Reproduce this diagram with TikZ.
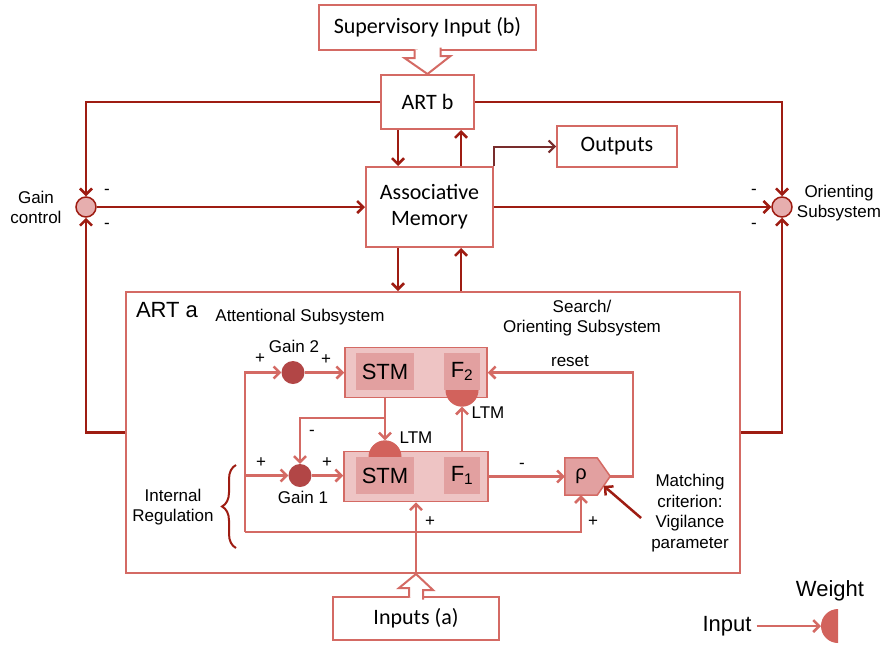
\documentclass[tikz,border=0pt]{standalone}
\usepackage{fontspec}
\setmainfont{Liberation Sans}
\newfontfamily\calib{Carlito}
\usetikzlibrary{arrows.meta,decorations.pathreplacing,calc}
\definecolor{artdark}{RGB}{158,28,18}
\definecolor{artline}{RGB}{212,106,100}
\definecolor{artfill}{RGB}{238,196,196}
\definecolor{artcell}{RGB}{226,160,160}
\definecolor{artgain}{RGB}{178,70,70}
\definecolor{artltm}{RGB}{210,98,92}
\definecolor{artout}{RGB}{120,45,45}
\begin{document}
\begin{tikzpicture}[x=1pt,y=-1pt,>={Straight Barb[length=6pt,width=12pt]},
    outerline/.style={draw=artdark,line width=2.5pt},
    innerline/.style={draw=artline,line width=2.5pt},
    block/.style={draw=artline,line width=2pt,fill=white,inner sep=0pt,align=center,font=\calib\fontsize{22}{26}\selectfont},
    field/.style={draw=artline,line width=1.5pt,fill=artfill,inner sep=0pt,minimum height=50pt},
    cell/.style={fill=artcell,inner sep=0pt,minimum height=37pt,font=\fontsize{22}{26}\selectfont},
    gain/.style={circle,fill=artgain,inner sep=0pt,minimum size=23pt},
    sumnode/.style={circle,draw=artdark,line width=1.5pt,fill=artcell!85!white,inner sep=0pt,minimum size=20pt},
    lbl/.style={inner sep=0pt,align=center,font=\fontsize{17}{20.5}\selectfont},
    biglbl/.style={inner sep=0pt,font=\fontsize{22}{26}\selectfont},
    hollow/.style={draw=artline,line width=2pt,fill=white,line join=miter}]
      \useasboundingbox (0,0) rectangle (883,646);

      \node[block,minimum width=217pt,minimum height=45pt] (sup) at (427.5,27.5) {Supervisory Input (b)};
      \node[block,minimum width=93pt,minimum height=54pt] (artb) at (427.5,102) {ART b};
      \node[block,minimum width=127pt,minimum height=80pt] (assoc) at (429.5,207) {Associative\\Memory};
      \node[block,minimum width=120pt,minimum height=41pt] (outputs) at (617,146.5) {Outputs};
      \node[block,minimum width=166pt,minimum height=43pt] (inputs) at (416,618.5) {Inputs (a)};
      \node[draw=artline,line width=2pt,minimum width=614pt,minimum height=281pt] (arta) at (433,432.5) {};

      \node[sumnode] (gainctl) at (86,207) {};
      \node[sumnode] (orient) at (782,207) {};
      \node[lbl] (gainlbl) at (36,207.5) {Gain\\control};
      \node[lbl] (orientlbl) at (839,203) {Orienting\\Subsystem};
      \node[lbl] at (107,192) {-};
      \node[lbl] at (107,226) {-};
      \node[lbl] at (754,192) {-};
      \node[lbl] at (754,226) {-};

      \draw[outerline,->] (artb.west) -| (gainctl.north);
      \draw[outerline,->] (artb.east) -| (orient.north);
      \draw[outerline,->] (gainctl.east) -- (assoc.west);
      \draw[outerline,->] (assoc.east) -- (orient.west);
      \draw[outerline,->] (arta.west) -| (gainctl.south);
      \draw[outerline,->] (arta.east) -| (orient.south);
      \draw[outerline,->] ([xshift=-29.5pt]artb.south) -- ([xshift=-29.5pt]artb.south |- assoc.north);
      \draw[outerline,->] ([xshift=33.5pt]artb.south |- assoc.north) -- ([xshift=33.5pt]artb.south);
      \draw[outerline,->] ([xshift=-31.5pt]assoc.south) -- ([xshift=-31.5pt]assoc.south |- arta.north);
      \draw[outerline,->] ([xshift=31.5pt]assoc.south |- arta.north) -- ([xshift=31.5pt]assoc.south);
      \draw[line width=2pt,draw=artout,->] (assoc.north east) |- (outputs.west);

      \draw[hollow] ([xshift=-13pt,yshift=1.5pt]sup.south) -- ++(0,8.5) -- ++(-10,0) -- (artb.north)
        -- ++(23,-18) -- ++(-10,0) -- ++(0,-8.5);
      \draw[hollow] ([xshift=-7pt,yshift=-1.5pt]inputs.north) -- ++(0,-9.5) -- ++(-10,0) -- (inputs.north |- arta.south)
        -- ++(17,16) -- ++(-10,0) -- ++(0,9.5);

      \node[biglbl] (artalbl) at (167,310) {ART a};
      \node[lbl] (attlbl) at (300,317) {Attentional Subsystem};
      \node[lbl] (searchlbl) at (582,318) {Search/\\Orienting Subsystem};

      \node[field,minimum width=142pt] (f2) at (416,372.5) {};
      \node[cell,minimum width=58pt] (f2stm) at (385,371.5) {STM};
      \node[cell,minimum width=36pt] (f2f) at (462,371.5) {F\textsubscript{2}};
      \node[field,minimum width=144pt] (f1) at (416,476.5) {};
      \node[cell,minimum width=58pt] (f1stm) at (385,475.5) {STM};
      \node[cell,minimum width=36pt] (f1f) at (462,475.5) {F\textsubscript{1}};
      \fill[artltm] (f2f.south) ++(-16.5pt,0) arc[start angle=180,end angle=360,radius=16.5pt] -- cycle;
      \fill[artltm] (f1stm.north) ++(-16.5pt,0) arc[start angle=180,end angle=0,radius=16.5pt] -- cycle;
      \coordinate (ltmtwo) at ($(f2f.south)+(0,16.5)$);
      \coordinate (ltmone) at ($(f1stm.north)+(0,-16.5)$);
      \node[lbl] at (488,413) {LTM};
      \node[lbl] at (416,438) {LTM};

      \node[gain] (gaintwo) at (293,372.5) {};
      \node[gain] (gainone) at (300,475.5) {};
      \node[lbl] at (294,346) {Gain 2};
      \node[lbl] at (303,497) {Gain 1};
      \node[lbl] at (260,359) {+};
      \node[lbl] at (326,360) {+};
      \node[lbl] at (261,463) {+};
      \node[lbl] at (327,463) {+};
      \node[lbl] at (312,433) {-};

      \node[minimum width=32pt,minimum height=37pt,inner sep=0pt] (rho) at (581,476.5) {};
      \filldraw[fill=artcell,draw=artline,line width=1.5pt] (rho.north west) -- (rho.north east) -- ++(13,18.5)
        -- (rho.south east) -- (rho.south west) -- cycle;
      \node[inner sep=0pt,font=\fontsize{20}{24}\selectfont] at (rho) {ρ};
      \coordinate (rhotip) at ($(rho.east)+(13,0)$);

      \coordinate (busbot) at (245,532);
      \coordinate (split) at (385,418);
      \draw[innerline,->] (busbot) -- (busbot |- gaintwo) -- (gaintwo.west);
      \draw[innerline,->] (busbot |- gainone) -- (gainone.west);
      \draw[innerline,->] (busbot) -| (rho.south);
      \draw[innerline,->] (gaintwo.east) -- (gaintwo.east -| f2.west);
      \draw[innerline,->] (gainone.east) -- (gainone.east -| f1.west);
      \draw[innerline,->] (f2stm.south |- f2.south) -- (ltmone);
      \draw[innerline,->] (split) -| (gainone.north);
      \draw[innerline,->] (f1f.north |- f1.north) -- (ltmtwo);
      \draw[innerline,->] (f1.east) -- (rho.west);
      \draw[innerline,->] (rhotip) -- ++(23,0) |- (f2.east);
      \draw[innerline,->] (inputs.north |- arta.south) -- (f1.south);
      \node[lbl] at (522,466) {-};
      \node[lbl] at (570,361) {reset};
      \node[lbl] at (430,522) {+};
      \node[lbl] at (593,522) {+};

      \draw[artdark,line width=2pt,decorate,decoration={brace,amplitude=14pt}] (236,548) -- (236,465);
      \node[lbl] (reglbl) at (173,507) {Internal\\Regulation};
      \node[lbl] (match) at (690,513) {Matching\\criterion:\\Vigilance\\parameter};
      \draw[outerline,->] ($(match.west)+(-10,5)$) -- ($(rhotip)!0.5!(rho.south east)$);

      \node[biglbl] (legweight) at (830,591) {Weight};
      \node[biglbl] (leginput) at (727,626) {Input};
      \coordinate (legdisc) at (838,626);
      \fill[artltm] (legdisc) ++(0pt,17pt) arc[start angle=90,end angle=270,radius=17pt] -- cycle;
      \draw[innerline,->] ([xshift=5pt]leginput.east) -- ([xshift=-17pt]leginput.east -| legdisc);
    \end{tikzpicture}
\end{document}
